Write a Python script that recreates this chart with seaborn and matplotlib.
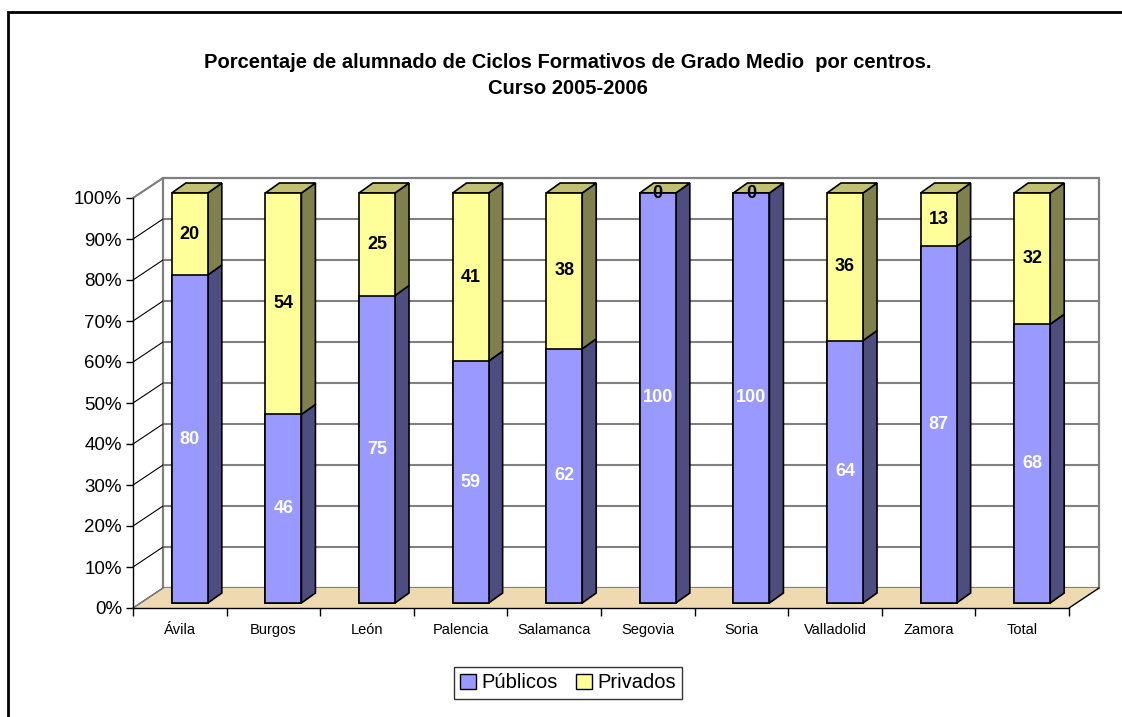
import pandas as pd
import seaborn as sns
import matplotlib.pyplot as plt
from matplotlib.patches import Polygon, Rectangle, Patch

# Data
centros = ['Ávila', 'Burgos', 'León', 'Palencia', 'Salamanca',
           'Segovia', 'Soria', 'Valladolid', 'Zamora', 'Total']
publicos = [80, 46, 75, 59, 62, 100, 100, 64, 87, 68]
privados = [20, 54, 25, 41, 38, 0, 0, 36, 13, 32]
yticks = [0, 10, 20, 30, 40, 50, 60, 70, 80, 90, 100]

df = pd.DataFrame({'centro': centros, 'Públicos': publicos, 'Privados': privados})
df['total'] = df['Públicos'] + df['Privados']

# colours
azul, azul_lado = '#9999FF', '#4D4D80'
amar, amar_lado, amar_top = '#FFFF99', '#80804D', '#C0C070'
suelo = '#EFD9B0'
gris = '#808080'

sns.set_theme(style='white')
plt.rcParams['font.family'] = ['Liberation Sans', 'DejaVu Sans']
plt.rcParams['text.color'] = 'black'
plt.rcParams['xtick.color'] = 'black'
plt.rcParams['ytick.color'] = 'black'

fig = plt.figure(figsize=(11.22, 7.17), dpi=100)
ax = fig.add_axes([133 / 1122, 109 / 717, 936 / 1122, 410 / 717])

# pseudo 3D geometry (data units)
DX, DY = 30 / 93.6, 20 / 4.1      # wall depth
OX, OY = 10 / 93.6, 5 / 4.1       # bar front offset
BX, BY = 14 / 93.6, 10 / 4.1      # bar depth
W = 0.385

# bars (front faces) with seaborn
sns.barplot(data=df, x='centro', y='total', color=amar, saturation=1,
            width=W, edgecolor='black', linewidth=1.2, ax=ax, zorder=3)
sns.barplot(data=df, x='centro', y='Públicos', color=azul, saturation=1,
            width=W, edgecolor='black', linewidth=1.2, ax=ax, zorder=3)
for cont in ax.containers:
    for p in cont:
        p.set_x(p.get_x() + OX)
        p.set_y(p.get_y() + OY)
        p.set_clip_on(False)

ax.set_xlim(-0.5, 9.5)
ax.set_ylim(0, 100)
ax.set_xlabel('')
ax.set_ylabel('')

# floor
x0, x1 = -0.5, 9.5
ax.add_patch(Polygon([(x0, 0), (x1, 0), (x1 + DX, DY), (x0 + DX, DY)],
                     closed=True, facecolor=suelo, edgecolor='none',
                     clip_on=False, zorder=0.5))
ax.plot([x1, x1 + DX], [0, DY], color='black', lw=1, clip_on=False, zorder=1)
ax.plot([x0, x0 + DX], [0, DY], color=gris, lw=1, clip_on=False, zorder=1)

# back wall and grid
ax.add_patch(Rectangle((x0 + DX, DY), x1 - x0, 100, facecolor='white',
                       edgecolor=gris, lw=1.6, clip_on=False, zorder=0.4))
for v in yticks[1:-1]:
    ax.plot([x0 + DX, x1 + DX], [v + DY, v + DY], color=gris, lw=1.5,
            clip_on=False, zorder=0.6)
for v in yticks:
    ax.plot([x0, x0 + DX], [v, v + DY], color='black', lw=0.8,
            clip_on=False, zorder=0.7)
ax.plot([x0, x0 + DX], [100, 100 + DY], color=gris, lw=1.5, clip_on=False, zorder=0.7)

# side and top faces
for i, (pu, pr) in enumerate(zip(publicos, privados)):
    xl = i - W / 2 + OX
    xr = i + W / 2 + OX
    tot = pu + pr
    ax.add_patch(Polygon([(xr, OY), (xr + BX, OY + BY), (xr + BX, pu + OY + BY), (xr, pu + OY)],
                         closed=True, facecolor=azul_lado, edgecolor='black', lw=1.2,
                         zorder=2.5, clip_on=False))
    if pr > 0:
        ax.add_patch(Polygon([(xr, pu + OY), (xr + BX, pu + OY + BY),
                              (xr + BX, tot + OY + BY), (xr, tot + OY)],
                             closed=True, facecolor=amar_lado, edgecolor='black', lw=1.2,
                             zorder=2.5, clip_on=False))
    ax.add_patch(Polygon([(xl, tot + OY), (xr, tot + OY), (xr + BX, tot + OY + BY), (xl + BX, tot + OY + BY)],
                         closed=True, facecolor=amar_top, edgecolor='black', lw=1.2,
                         zorder=2.5, clip_on=False))
    ax.text(i + OX, pu / 2 + OY, str(pu), color='white', fontsize=13,
            fontweight='bold', ha='center', va='center', zorder=5)
    ax.text(i + OX, pu + pr / 2 + OY, str(pr), color='black', fontsize=13,
            fontweight='bold', ha='center', va='center', zorder=5, clip_on=False)

# axes styling
for s in ['top', 'right']:
    ax.spines[s].set_visible(False)
for s in ['left', 'bottom']:
    ax.spines[s].set_color('black')
    ax.spines[s].set_linewidth(1)
    ax.spines[s].set_zorder(1)
ax.set_yticks(yticks)
ax.set_yticklabels([f'{v}%' for v in yticks], fontsize=13.5)
ax.tick_params(axis='y', left=True, length=5, width=1, color='black', pad=3)
ax.set_xticks(range(len(centros)))
ax.set_xticklabels(centros, fontsize=10.5)
ax.set_xticks([i - 0.5 for i in range(len(centros) + 1)], minor=True)
ax.tick_params(axis='x', which='major', length=0, pad=11)
ax.tick_params(axis='x', which='minor', bottom=True, length=6, width=1, color='black')

# title
fig.text(568 / 1122, 1 - 62 / 717,
         'Porcentaje de alumnado de Ciclos Formativos de Grado Medio  por centros.',
         ha='center', va='center', fontsize=14.5, fontweight='bold')
fig.text(568 / 1122, 1 - 88 / 717, 'Curso 2005-2006',
         ha='center', va='center', fontsize=14.5, fontweight='bold')

# legend
handles = [Patch(facecolor=azul, edgecolor='black', label='Públicos'),
           Patch(facecolor=amar, edgecolor='black', label='Privados')]
leg = fig.legend(handles=handles, loc='center', bbox_to_anchor=(568 / 1122, 1 - 683 / 717),
                 ncol=2, fontsize=14.5, frameon=True, fancybox=False,
                 handlelength=0.8, handleheight=0.8, handletextpad=0.25,
                 columnspacing=0.9, borderpad=0.3)
leg.get_frame().set_edgecolor('black')
leg.get_frame().set_linewidth(1)

# chart border
fig.add_artist(Rectangle((8 / 1122, -0.1), 1.2, 1.1 - 12 / 717, transform=fig.transFigure,
                         fill=False, edgecolor='black', lw=2))

plt.savefig('out.png', dpi=100)
